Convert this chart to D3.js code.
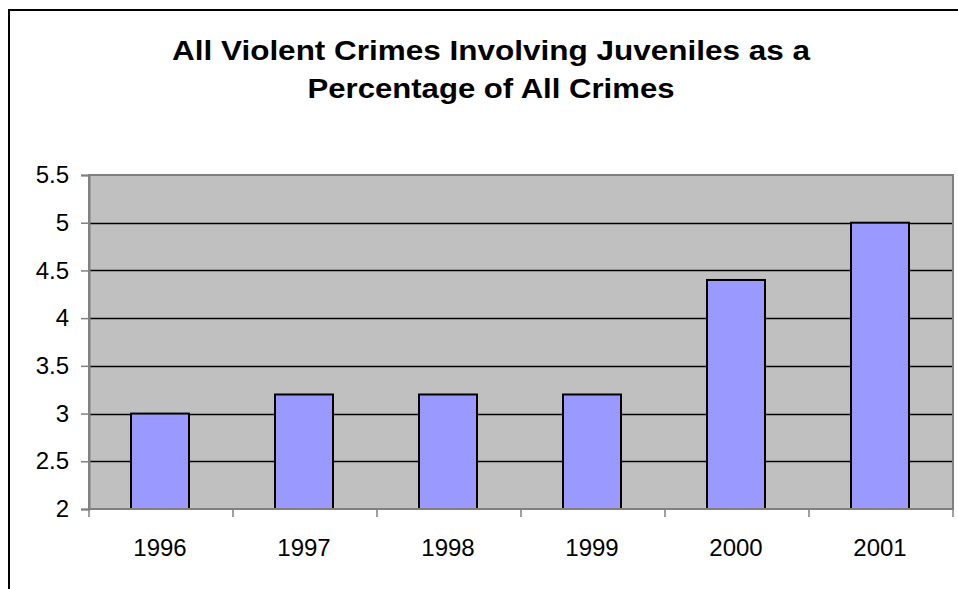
<!DOCTYPE html>
<html>
<head>
<meta charset="utf-8">
<script src="https://cdn.jsdelivr.net/npm/d3@7"></script>
<style>
  html, body { margin: 0; padding: 0; background: #fff; }
  svg { display: block; }
  text { font-family: "Liberation Sans", Arial, sans-serif; fill: #000; }
</style>
</head>
<body>
<script>
const categories = ["1996", "1997", "1998", "1999", "2000", "2001"];
const values = [3.0, 3.2, 3.2, 3.2, 4.4, 5.0];
const yTicks = [2, 2.5, 3, 3.5, 4, 4.5, 5, 5.5];
const titleLines = ["All Violent Crimes Involving Juveniles as a", "Percentage of All Crimes"];
const titleWidths = [638, 367];

const W = 958, H = 589;
const plot = { left: 89, right: 953, top: 175, bottom: 509 };

const svg = d3.select("body").append("svg").attr("width", W).attr("height", H);

// outer chart border (partially cropped)
svg.append("rect")
  .attr("x", 9).attr("y", 10).attr("width", 980).attr("height", 600)
  .attr("fill", "#fff").attr("stroke", "#000").attr("stroke-width", 2);

const xCat = d3.scaleBand().domain(categories).range([plot.left, plot.right]);
const y = d3.scaleLinear().domain([2, 5.5]).range([plot.bottom, plot.top]);

// plot background
svg.append("rect")
  .attr("x", plot.left).attr("y", plot.top)
  .attr("width", plot.right - plot.left).attr("height", plot.bottom - plot.top)
  .attr("fill", "#c0c0c0").attr("stroke", "#808080").attr("stroke-width", 2);

// gridlines
svg.append("g").selectAll("line")
  .data(yTicks.filter(t => t > 2 && t < 5.5))
  .join("line")
  .attr("x1", plot.left + 1).attr("x2", plot.right - 1)
  .attr("y1", d => Math.round(y(d)) + 0.5).attr("y2", d => Math.round(y(d)) + 0.5)
  .attr("stroke", "#000").attr("stroke-width", 1.5);

// bars
const bw = 58;
svg.append("g").selectAll("rect")
  .data(categories)
  .join("rect")
  .attr("x", d => xCat(d) + xCat.bandwidth() / 2 - bw / 2 - 1)
  .attr("y", (d, i) => y(values[i]))
  .attr("width", bw)
  .attr("height", (d, i) => y(2) - y(values[i]))
  .attr("fill", "#9999ff").attr("stroke", "#000").attr("stroke-width", 2);

// y axis
const yAxis = d3.axisLeft(y).tickValues(yTicks).tickSize(8).tickPadding(12)
  .tickFormat(d => d3.format("~g")(d));
const gy = svg.append("g").attr("transform", `translate(${plot.left},0)`).call(yAxis);
gy.select(".domain").attr("stroke", "#808080").attr("stroke-width", 2);
gy.selectAll(".tick line").attr("stroke", "#808080").attr("stroke-width", 1.5);
gy.selectAll(".tick text").attr("font-size", 24).attr("font-family", "Liberation Sans, Arial, sans-serif").attr("fill", "#000");

// x axis: ticks at category boundaries
const boundaries = categories.map(c => xCat(c)).concat([plot.right]);
const gx = svg.append("g");
gx.append("line").attr("x1", plot.left).attr("x2", plot.right)
  .attr("y1", plot.bottom).attr("y2", plot.bottom).attr("stroke", "#808080").attr("stroke-width", 2);
gx.selectAll("line.tk").data(boundaries).join("line").attr("class", "tk")
  .attr("x1", d => Math.round(d)).attr("x2", d => Math.round(d))
  .attr("y1", plot.bottom).attr("y2", plot.bottom + 8).attr("stroke", "#808080").attr("stroke-width", 1.5);
gx.selectAll("text").data(categories).join("text")
  .attr("x", d => xCat(d) + xCat.bandwidth() / 2 - 1)
  .attr("y", 556)
  .attr("text-anchor", "middle")
  .attr("font-size", 24)
  .text(d => d);

// title
svg.append("g").selectAll("text").data(titleLines).join("text")
  .attr("x", 491).attr("y", (d, i) => 60 + i * 38)
  .attr("text-anchor", "middle")
  .attr("font-size", 27).attr("font-weight", "bold")
  .attr("textLength", (d, i) => titleWidths[i])
  .attr("lengthAdjust", "spacingAndGlyphs")
  .text(d => d);
</script>
</body>
</html>
